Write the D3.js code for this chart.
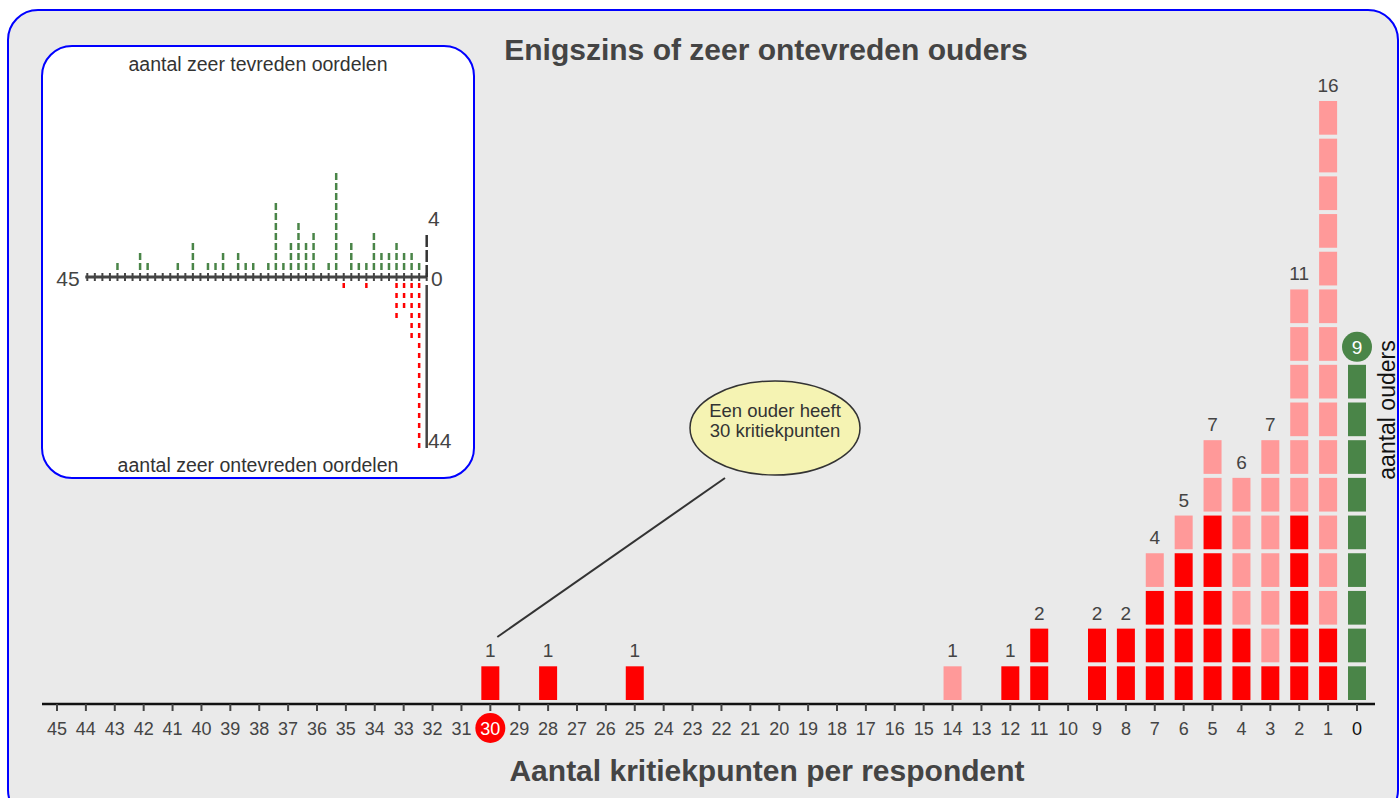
<!DOCTYPE html>
<html><head><meta charset="utf-8">
<script src="https://cdn.jsdelivr.net/npm/d3@7/dist/d3.min.js"></script>
<style>html,body{margin:0;padding:0;background:#fff;}svg{display:block;font-family:"Liberation Sans",Arial,sans-serif;}</style>
</head><body>
<svg id="c" width="1400" height="798"></svg>
<script>
// ---------- DATA ----------
const tickLabels = d3.range(45, -1, -1);          // 45 .. 0 kritiekpunten
const mainCats   = [30, 28, 25, 14, 12, 11, 9, 8, 7, 6, 5, 4, 3, 2, 1, 0];
const mainCounts = [1, 1, 1, 1, 1, 2, 2, 2, 4, 5, 7, 6, 7, 11, 16, 9];
const mainSevere = [1, 1, 1, 0, 1, 2, 2, 2, 3, 4, 5, 2, 1, 5, 2, 0]; // dark red blocks (bottom)
const highlightCat = 30;

const insetGreenCats = [41,38,37,33,31,29,28,27,25,24,23,21,20,19,18,17,16,15,13,12,10,9,8,7,6,5,4,3,2,1];
const insetGreenVals = [1, 2, 1, 1, 3, 1, 1, 2, 2, 1, 1, 1, 7, 1, 3, 5, 3, 4, 1,10, 3,1,1,4,2,2,3,2,2,1];
const insetRedCats = [11, 8, 4, 3, 2, 1];
const insetRedVals = [2, 2, 10, 7, 15, 44];

const title = "Enigszins of zeer ontevreden ouders";
const xTitle = "Aantal kritiekpunten per respondent";
const yTitle = "aantal ouders";
const calloutLines = ["Een ouder heeft", "30 kritiekpunten"];

// ---------- COLORS ----------
const C = {bg:"#eaeaea", border:"#0000ff", text:"#444", red:"#ff0000", pink:"#ff9999", green:"#4a8548"};

const svg = d3.select("#c");

// outer panel
svg.append("rect").attr("x",8).attr("y",10).attr("width",1390).attr("height",810)
  .attr("rx",30).attr("fill",C.bg).attr("stroke",C.border).attr("stroke-width",2);

// ---------- MAIN CHART ----------
const x = d3.scaleLinear().domain([45, 0]).range([57, 1357]);
const y = d3.scaleLinear().domain([0, 16]).range([704, 101]);
const barW = 18, gap = 4;

const blocks = [];
mainCats.forEach((c, j) => {
  for (let i = 0; i < mainCounts[j]; i++) {
    blocks.push({cat: c, i, type: c === 0 ? "g" : (i < mainSevere[j] ? "r" : "p")});
  }
});
svg.append("g").selectAll("rect").data(blocks).join("rect")
  .attr("x", d => x(d.cat) - barW/2)
  .attr("y", d => y(d.i + 1))
  .attr("width", barW)
  .attr("height", d => y(d.i) - y(d.i + 1) - gap)
  .attr("fill", d => d.type === "g" ? C.green : d.type === "r" ? C.red : C.pink);

// count labels
const lbl = svg.append("g");
mainCats.forEach((c, j) => {
  if (c === 0) {
    lbl.append("circle").attr("cx", x(c)).attr("cy", y(mainCounts[j]) - 18).attr("r", 15).attr("fill", C.green);
    lbl.append("text").attr("x", x(c)).attr("y", y(mainCounts[j]) - 11).attr("text-anchor","middle")
      .attr("font-size",19).attr("fill","#fff").text(mainCounts[j]);
  } else {
    lbl.append("text").attr("x", x(c)).attr("y", y(mainCounts[j]) - 9).attr("text-anchor","middle")
      .attr("font-size",19).attr("fill",C.text).text(mainCounts[j]);
  }
});

// x axis
const axG = svg.append("g");
axG.append("line").attr("x1",42).attr("x2",1375).attr("y1",704).attr("y2",704)
  .attr("stroke","#111").attr("stroke-width",2.5);
axG.selectAll("line.t").data(tickLabels).join("line").attr("class","t")
  .attr("x1", d => x(d)).attr("x2", d => x(d)).attr("y1",704).attr("y2",711)
  .attr("stroke",C.text).attr("stroke-width",2);
axG.append("circle").attr("cx", x(highlightCat)).attr("cy",728).attr("r",15).attr("fill",C.red);
axG.selectAll("text").data(tickLabels).join("text")
  .attr("x", d => x(d)).attr("y",735).attr("text-anchor","middle").attr("font-size",18)
  .attr("fill", d => d === highlightCat ? "#fff" : (d === 0 ? "#111" : C.text)).text(d => d);

// titles
svg.append("text").attr("x",766).attr("y",60).attr("text-anchor","middle").attr("font-size",30)
  .attr("font-weight","bold").attr("fill",C.text).text(title);
svg.append("text").attr("x",767).attr("y",781).attr("text-anchor","middle").attr("font-size",30)
  .attr("font-weight","bold").attr("fill",C.text).text(xTitle);
svg.append("text").attr("transform","translate(1395,410) rotate(-90)").attr("text-anchor","middle")
  .attr("font-size",23).attr("fill","#111").text(yTitle);

// callout
const calloutCat = 30;
svg.append("line").attr("x1", x(calloutCat) + 7).attr("y1", 637).attr("x2", 725).attr("y2", 478)
  .attr("stroke","#333").attr("stroke-width",2);
svg.append("ellipse").attr("cx",775).attr("cy",428).attr("rx",85).attr("ry",47)
  .attr("fill","#f5f3b3").attr("stroke","#333").attr("stroke-width",1.5);
calloutLines.forEach((t, i) => {
  svg.append("text").attr("x",775).attr("y",417 + i*20).attr("text-anchor","middle")
    .attr("font-size",18.5).attr("fill","#333").text(t);
});

// ---------- INSET ----------
const ins = svg.append("g");
ins.append("rect").attr("x",42).attr("y",46).attr("width",432).attr("height",432).attr("rx",30)
  .attr("fill","#fff").attr("stroke",C.border).attr("stroke-width",2);
ins.append("text").attr("x",258).attr("y",71).attr("text-anchor","middle").attr("font-size",19.5)
  .attr("fill","#333").text("aantal zeer tevreden oordelen");
ins.append("text").attr("x",258).attr("y",472).attr("text-anchor","middle").attr("font-size",19.5)
  .attr("fill","#333").text("aantal zeer ontevreden oordelen");

const ix = d3.scaleLinear().domain([45, 0]).range([87.3, 426.7]);
const gy = d3.scaleLinear().domain([0, 1]).range([270, 260]);     // green dashes
const upAxis = d3.scaleLinear().domain([0, 4]).range([277, 232]);
const ry = d3.scaleLinear().domain([0, 44]).range([283, 448]);     // red

ins.selectAll("line.g").data(insetGreenCats).join("line").attr("class","g")
  .attr("x1", d => ix(d)).attr("x2", d => ix(d))
  .attr("y1", gy(0)).attr("y2", (d, i) => gy(insetGreenVals[i]))
  .attr("stroke", C.green).attr("stroke-width",2.5).attr("stroke-dasharray","7,3");
ins.selectAll("line.r").data(insetRedCats).join("line").attr("class","r")
  .attr("x1", d => ix(d)).attr("x2", d => ix(d))
  .attr("y1", ry(0)).attr("y2", (d, i) => ry(insetRedVals[i]))
  .attr("stroke", C.red).attr("stroke-width",2.5).attr("stroke-dasharray","5,5");

// inset axes
ins.append("line").attr("x1", ix(45) - 2).attr("x2", ix(0)).attr("y1",277).attr("y2",277)
  .attr("stroke",C.text).attr("stroke-width",3);
ins.selectAll("line.it").data(tickLabels).join("line").attr("class","it")
  .attr("x1", d => ix(d)).attr("x2", d => ix(d)).attr("y1",273).attr("y2",281)
  .attr("stroke",C.text).attr("stroke-width",2);
ins.append("line").attr("x1", ix(0)).attr("x2", ix(0)).attr("y1", upAxis(0)).attr("y2", upAxis(4))
  .attr("stroke","#333").attr("stroke-width",2.5).attr("stroke-dasharray","12,3");
ins.append("line").attr("x1", ix(0)).attr("x2", ix(0)).attr("y1", 285).attr("y2", ry(44))
  .attr("stroke",C.text).attr("stroke-width",2.5);
ins.append("text").attr("x",68).attr("y",286).attr("text-anchor","middle").attr("font-size",21)
  .attr("fill",C.text).text("45");
ins.append("text").attr("x",431).attr("y",286).attr("font-size",21).attr("fill",C.text).text("0");
ins.append("text").attr("x",428).attr("y",226).attr("font-size",21).attr("fill",C.text).text("4");
ins.append("text").attr("x",428).attr("y",448).attr("font-size",21).attr("fill",C.text).text("44");
</script>
</body></html>
